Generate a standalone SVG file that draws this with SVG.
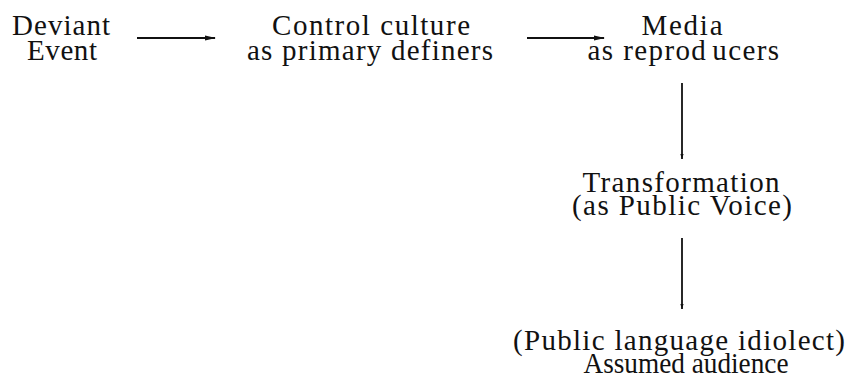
<svg xmlns="http://www.w3.org/2000/svg" width="853" height="378" viewBox="0 0 853 378">
<style>
.c{stroke:#111;stroke-width:1.8;fill:none}
</style>
<defs>
<marker id="ah" markerWidth="11" markerHeight="6" refX="10" refY="3" orient="auto" markerUnits="userSpaceOnUse">
<path d="M0,0.6 L11,3 L0,5.4 Z" fill="#111"/>
</marker>
<marker id="ahs" markerWidth="4" markerHeight="5" refX="2" refY="5" orient="0" markerUnits="userSpaceOnUse">
<path d="M0.4,0 L3.6,0 L2,5 Z" fill="#111"/>
</marker>
</defs>
<rect width="853" height="378" fill="#fff"/>
<g id="connectors">
<line class="c" x1="137" y1="38" x2="215" y2="38" marker-end="url(#ah)"/>
<line class="c" x1="527" y1="38" x2="604" y2="38" marker-end="url(#ah)"/>
<line class="c" x1="682" y1="83" x2="682" y2="159" marker-end="url(#ahs)"/>
<line class="c" x1="682" y1="238" x2="682" y2="309" marker-end="url(#ahs)"/>
</g>
<g font-family="Liberation Serif, DejaVu Serif, serif" font-size="29" fill="#111" text-anchor="middle">
<g id="deviant">
<text x="61" y="35" textLength="98">Deviant</text>
<text x="62" y="60" textLength="70">Event</text>
</g>
<g id="control">
<text x="371" y="35" textLength="198">Control culture</text>
<text x="370" y="60" textLength="246">as primary definers</text>
</g>
<g id="media">
<text x="682" y="35" textLength="81">Media</text>
<text x="684" y="60" letter-spacing="1.4">as reprod<tspan dx="5">ucers</tspan></text>
</g>
<g id="transformation">
<text x="681" y="192" textLength="197">Transformation</text>
<text x="682" y="215" textLength="220">(as Public Voice)</text>
</g>
<g id="audience">
<text x="679" y="350" textLength="332">(Public language idiolect)</text>
<text x="686" y="373" textLength="205" lengthAdjust="spacingAndGlyphs">Assumed audience</text>
</g>
</g>
</svg>
